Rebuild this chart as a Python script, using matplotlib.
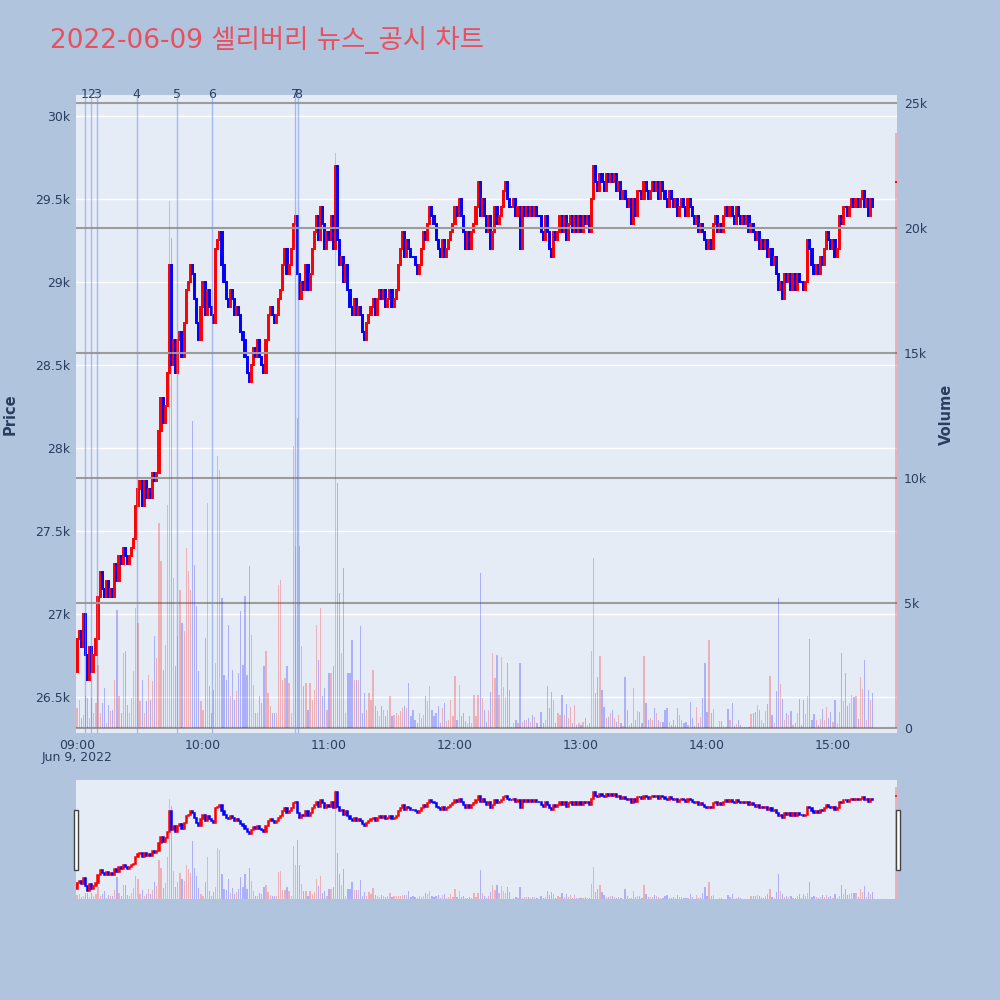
import numpy as np
import pandas as pd
import matplotlib
matplotlib.use('Agg')
import matplotlib.pyplot as plt
import matplotlib.dates as mdates
from matplotlib.patches import Rectangle

plt.rcParams['font.family'] = ['DejaVu Sans', 'Noto Sans CJK KR']

# 1-minute closes (KRW), one list per hour
close_09 = [26850, 26900, 26800, 27000, 26750, 26600, 26800, 26650, 26750, 26850,
            27100, 27250, 27150, 27100, 27200, 27100, 27150, 27100, 27300, 27200,
            27350, 27300, 27400, 27350, 27300, 27350, 27400, 27450, 27650, 27750,
            27800, 27650, 27800, 27700, 27750, 27700, 27850, 27800, 27850, 28100,
            28300, 28150, 28250, 28450, 29100, 28500, 28650, 28450, 28650, 28700,
            28550, 28750, 28950, 29000, 29100, 29050, 28900, 28750, 28650, 28850]
close_10 = [29000, 28800, 28950, 28850, 28800, 28750, 29200, 29250, 29300, 29100,
            29000, 28900, 28850, 28950, 28900, 28800, 28850, 28800, 28700, 28650,
            28550, 28450, 28400, 28500, 28600, 28550, 28650, 28550, 28500, 28450,
            28650, 28800, 28850, 28800, 28750, 28800, 28900, 28950, 29100, 29200,
            29050, 29100, 29200, 29350, 29400, 29050, 28900, 29000, 28950, 29100,
            28950, 29050, 29200, 29300, 29400, 29250, 29450, 29350, 29200, 29300]
close_11 = [29250, 29400, 29200, 29700, 29250, 29100, 29150, 29000, 29100, 28950,
            28850, 28800, 28900, 28800, 28850, 28800, 28700, 28650, 28750, 28800,
            28850, 28900, 28800, 28900, 28950, 28900, 28950, 28850, 28900, 28950,
            28850, 28900, 28950, 29100, 29200, 29300, 29150, 29250, 29200, 29150,
            29150, 29100, 29050, 29100, 29200, 29300, 29250, 29350, 29450, 29400,
            29350, 29250, 29200, 29150, 29250, 29150, 29200, 29250, 29300, 29350]
close_12 = [29450, 29400, 29500, 29400, 29300, 29200, 29300, 29200, 29300, 29350,
            29450, 29600, 29400, 29500, 29400, 29300, 29400, 29200, 29300, 29450,
            29350, 29400, 29450, 29550, 29600, 29500, 29450, 29450, 29500, 29400,
            29450, 29200, 29450, 29400, 29450, 29400, 29450, 29400, 29450, 29400,
            29400, 29300, 29250, 29400, 29300, 29200, 29150, 29300, 29250, 29300,
            29400, 29300, 29400, 29250, 29350, 29400, 29300, 29400, 29300, 29400]
close_13 = [29300, 29400, 29350, 29400, 29300, 29500, 29700, 29600, 29550, 29650,
            29600, 29550, 29650, 29600, 29650, 29600, 29650, 29550, 29600, 29500,
            29550, 29500, 29450, 29500, 29350, 29500, 29400, 29550, 29550, 29500,
            29600, 29550, 29500, 29550, 29600, 29550, 29600, 29500, 29600, 29550,
            29500, 29450, 29550, 29500, 29450, 29500, 29400, 29450, 29500, 29450,
            29400, 29500, 29450, 29400, 29350, 29400, 29300, 29350, 29300, 29250]
close_14 = [29200, 29250, 29200, 29350, 29400, 29300, 29350, 29300, 29400, 29450,
            29400, 29450, 29400, 29350, 29450, 29400, 29350, 29400, 29350, 29400,
            29300, 29350, 29300, 29250, 29300, 29200, 29250, 29200, 29250, 29150,
            29200, 29100, 29150, 29050, 28950, 29000, 28900, 29050, 29000, 29050,
            28950, 29050, 28950, 29050, 29000, 29000, 28950, 29000, 29250, 29200,
            29100, 29050, 29100, 29050, 29150, 29100, 29200, 29300, 29250, 29200]
close_15 = [29250, 29150, 29200, 29400, 29350, 29450, 29450, 29400, 29450, 29500,
            29450, 29500, 29450, 29500, 29550, 29450, 29500, 29400, 29500, 29450]
first_open = 26650
auction_price = 29600   # 15:30 closing auction

# 1-minute volume
vol_09 = [800, 1130, 400, 530, 1270, 1200, 400, 1200, 600, 1000,
          2530, 600, 1000, 1600, 200, 930, 670, 730, 1930, 4730,
          1270, 600, 3000, 3070, 930, 600, 1200, 2270, 4800, 4200,
          1070, 1930, 600, 1070, 2130, 1130, 1870, 3670, 2800, 8200,
          6670, 2330, 3330, 8930, 21100, 19600, 6000, 2470, 3670, 5530,
          4200, 3870, 7200, 6270, 5530, 12270, 6530, 4870, 2270, 1070]
vol_10 = [730, 3600, 9000, 1670, 600, 1530, 2600, 10870, 10330, 5200,
          2130, 1930, 4130, 1270, 2330, 1130, 1470, 2200, 4670, 2530,
          5270, 2130, 6470, 3730, 1730, 600, 600, 1270, 1000, 2470,
          3070, 1400, 870, 600, 600, 600, 5730, 5930, 1930, 2000,
          2470, 1800, 600, 11300, 7300, 12400, 7300, 3270, 1670, 1800,
          730, 1800, 1130, 1530, 4130, 2730, 4800, 1270, 1600, 730]
vol_11 = [2200, 2200, 2470, 23000, 9800, 5400, 3000, 6400, 600, 2200,
          2200, 3530, 1930, 1930, 1930, 4070, 600, 1400, 730, 1400,
          1130, 2330, 870, 670, 470, 870, 730, 470, 730, 1270,
          470, 530, 600, 530, 670, 800, 870, 800, 1800, 470,
          730, 330, 200, 600, 400, 530, 1270, 1070, 1670, 730,
          470, 600, 870, 200, 800, 1000, 270, 330, 1130, 470]
vol_12 = [2070, 330, 1730, 470, 600, 270, 200, 470, 200, 1330,
          470, 1330, 6200, 1190, 720, 250, 720, 1450, 2990, 1990,
          2920, 1320, 2850, 1650, 1250, 2590, 1520, 50, 190, 320,
          190, 2610, 250, 320, 320, 390, 250, 520, 450, 190,
          50, 650, 190, 320, 1690, 790, 1450, 1120, 190, 590,
          520, 1320, 520, 960, 390, 850, 190, 920, 120, 190]
vol_13 = [120, 250, 390, 120, 190, 3090, 6790, 1390, 2050, 2880,
          1520, 850, 390, 450, 590, 720, 390, 250, 520, 190,
          80, 2050, 720, 120, 190, 1590, 320, 690, 650, 210,
          2880, 990, 320, 390, 320, 790, 590, 320, 250, 250,
          720, 790, 250, 120, 320, 120, 790, 520, 320, 190,
          250, 120, 1050, 390, 80, 850, 190, 450, 1190, 2590]
vol_14 = [650, 3520, 590, 750, 30, 30, 290, 290, 80, 50,
          750, 320, 990, 80, 160, 320, 120, 50, 30, 50,
          50, 560, 590, 650, 920, 720, 320, 190, 690, 960,
          2080, 520, 210, 1490, 5190, 1760, 1160, 320, 590, 520,
          670, 120, 210, 610, 1150, 120, 1120, 560, 1280, 3550,
          320, 560, 320, 120, 350, 750, 320, 850, 390, 650]
vol_15 = [250, 1120, 190, 650, 3010, 1090, 2190, 880, 990, 1320,
          1250, 1280, 350, 2050, 1550, 2720, 320, 1520, 1120, 1390]
auction_volume = 23800

# news / disclosure times
news_times = ['09:03:50', '09:06:50', '09:09:40', '09:28:25', '09:47:30',
              '10:04:05', '10:44:00', '10:45:10']
news_labels = ['1', '2', '3', '4', '5', '6', '7', '8']

INC = '#ff0000'
DEC = '#0000ff'
TXT = '#2a3f5f'
MIN = 1 / 1440


def build_frame():
    closes = close_09 + close_10 + close_11 + close_12 + close_13 + close_14 + close_15
    vols = vol_09 + vol_10 + vol_11 + vol_12 + vol_13 + vol_14 + vol_15
    times = pd.date_range('2022-06-09 09:00', periods=len(closes), freq='min')
    df = pd.DataFrame({'time': times, 'close': closes, 'volume': vols})
    df['open'] = df['close'].shift(1).fillna(first_open)
    last = pd.DataFrame({'time': [pd.Timestamp('2022-06-09 15:30')], 'close': [auction_price],
                         'volume': [auction_volume], 'open': [auction_price - 1]})
    return pd.concat([df, last], ignore_index=True)


def draw_candles(ax, df, lw=1.4):
    t = mdates.date2num(df['time'])
    o = df['open'].values
    c = df['close'].values
    colors = np.where(c > o, INC, DEC)
    ax.bar(t, np.abs(c - o), bottom=np.minimum(o, c), width=0.55 * MIN,
           color=colors, edgecolor=colors, linewidth=lw, zorder=3)


def draw_volume(ax, df):
    t = mdates.date2num(df['time'])
    colors = np.where(df['close'].values > df['open'].values, INC, DEC)
    ax.bar(t, df['volume'], width=0.6 * MIN, color=colors, alpha=0.25, linewidth=0, zorder=2)


def clean(ax):
    for s in ax.spines.values():
        s.set_visible(False)
    ax.tick_params(length=0, colors=TXT, labelsize=9)


df = build_frame()
x0 = mdates.date2num(pd.Timestamp('2022-06-09 09:00')) - 0.5 * MIN
x1 = mdates.date2num(pd.Timestamp('2022-06-09 15:30')) + 0.5 * MIN

fig = plt.figure(figsize=(10, 10), dpi=100, facecolor='#b0c4de')

# main chart
ax = fig.add_axes([0.076, 0.267, 0.821, 0.638])
ax.set_facecolor('#e5ecf6')
draw_candles(ax, df)
ax.set_xlim(x0, x1)
ax.set_ylim(26283, 30126)
price_ticks = [26500, 27000, 27500, 28000, 28500, 29000, 29500, 30000]
ax.set_yticks(price_ticks)
ax.set_yticklabels(['26.5k', '27k', '27.5k', '28k', '28.5k', '29k', '29.5k', '30k'])
ax.grid(axis='y', color='white', linewidth=1)
ax.set_axisbelow(True)
ax.xaxis.set_major_locator(mdates.HourLocator())
ax.xaxis.set_major_formatter(mdates.DateFormatter('%H:%M'))
clean(ax)
ax.tick_params(axis='y', pad=4)
ax.tick_params(axis='x', pad=4)

axv = ax.twinx()
draw_volume(axv, df)
axv.set_ylim(-200, 25320)
axv.set_yticks([0, 5000, 10000, 15000, 20000, 25000])
axv.set_yticklabels(['0', '5k', '10k', '15k', '20k', '25k'])
axv.grid(axis='y', color='#9c9c9c', linewidth=1.5)
axv.set_axisbelow(True)
clean(axv)
axv.tick_params(axis='y', pad=5)

for nt, lab in zip(news_times, news_labels):
    xt = mdates.date2num(pd.Timestamp('2022-06-09 ' + nt))
    axv.axvline(xt, color='#6f8fe6', alpha=0.55, linewidth=1, zorder=4)
    ax.text(xt, 1.0, lab, transform=ax.get_xaxis_transform(), ha='center', va='center',
            fontsize=9, color=TXT, zorder=5)

# range slider
axs = fig.add_axes([0.076, 0.101, 0.821, 0.119])
axs.set_facecolor('#e5ecf6')
draw_candles(axs, df, lw=1.1)
axs.set_xlim(x0, x1)
axs.set_ylim(26340, 30090)
axs.set_xticks([])
axs.set_yticks([])
clean(axs)
axsv = axs.twinx()
draw_volume(axsv, df)
axsv.set_ylim(0, 25200)
axsv.set_yticks([])
clean(axsv)

for hx in [0.0735, 0.8955]:
    fig.patches.append(Rectangle((hx, 0.130), 0.0045, 0.060, transform=fig.transFigure,
                                 facecolor='white', edgecolor='#444444', linewidth=1))

# texts
fig.text(0.05, 0.960, '2022-06-09 셀리버리 뉴스_공시 차트', fontsize=19, color='#e9505e',
         ha='left', va='center')
fig.text(0.077, 0.242, 'Jun 9, 2022', fontsize=9, color=TXT, ha='center', va='center')
fig.text(0.010, 0.586, 'Price', rotation=90, fontsize=10.5, fontweight='bold', color=TXT,
         ha='center', va='center')
fig.text(0.946, 0.586, 'Volume', rotation=90, fontsize=10.5, fontweight='bold', color=TXT,
         ha='center', va='center')

fig.savefig('out.png', dpi=100, facecolor=fig.get_facecolor())
